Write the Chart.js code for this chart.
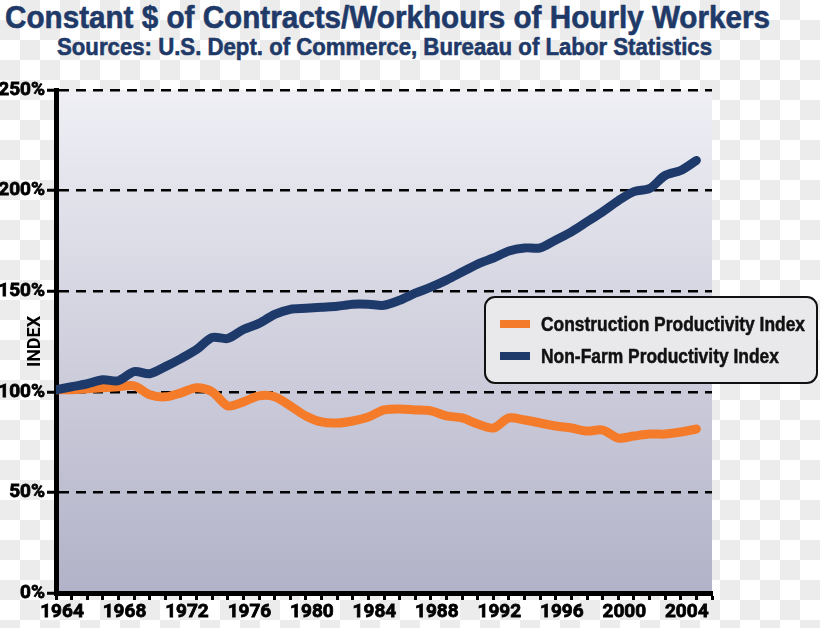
<!DOCTYPE html>
<html>
<head>
<meta charset="utf-8">
<title>Constant $ of Contracts/Workhours of Hourly Workers</title>
<script src="https://cdn.jsdelivr.net/npm/chart.js@4.4.1/dist/chart.umd.min.js"></script>
<style>
html, body { margin: 0; padding: 0; }
body {
  width: 820px; height: 628px; overflow: hidden; position: relative;
  background-color: #fff;
  background-image: conic-gradient(#ececec 25%, #fff 0 50%, #ececec 0 75%, #fff 0);
  background-size: 40px 40px;
}
.title {
  position: absolute; display: inline-block; transform-origin: 0 0;
  color: #1f3a68; font-weight: bold; white-space: nowrap; line-height: 1;
  font-family: 'Liberation Sans', Arial, sans-serif;
  -webkit-text-stroke: 0.6px #1f3a68;
}
#t1 { left: 5px; top: 2px; font-size: 31px; }
#t2 { left: 57px; top: 35px; font-size: 24px; }
#wrap { position: absolute; left: 0; top: 0; width: 820px; height: 628px; }
</style>
</head>
<body>
<span class="title" id="t1" data-w="765">Constant $ of Contracts/Workhours of Hourly Workers</span>
<span class="title" id="t2" data-w="655">Sources: U.S. Dept. of Commerce, Bureaau of Labor Statistics</span>
<div id="wrap"><canvas id="chart" width="820" height="628"></canvas></div>
<script>
// data
var years = [1964, 1965, 1966, 1967, 1968, 1969, 1970, 1971, 1972, 1973,
             1974, 1975, 1976, 1977, 1978, 1979, 1980, 1981, 1982, 1983,
             1984, 1985, 1986, 1987, 1988, 1989, 1990, 1991, 1992, 1993,
             1994, 1995, 1996, 1997, 1998, 1999, 2000, 2001, 2002, 2003,
             2004, 2005];
var construction = [101, 101, 101.5, 102, 102.5, 103, 98.5, 97.5, 99.5, 102,
                    100, 93, 95, 98, 97.5, 93, 88, 85, 84.5, 85.5,
                    87.5, 91, 91.5, 91, 90.5, 88, 87, 84, 82, 87,
                    86, 84.5, 83, 82, 80.5, 81, 77, 78, 79, 79,
                    80, 81.5];
var nonFarm = [101, 102.5, 104, 106, 105.5, 110, 109, 112.5, 116.5, 121,
               127, 126.5, 131, 134, 138.5, 141, 141.5, 142, 142.5, 143.5,
               143.5, 143, 145.5, 149, 152, 155.5, 159.5, 163.5, 166.5, 170,
               171.5, 171.5, 175.5, 179.5, 184.5, 189.5, 195, 199.5, 201, 207.5,
               210, 215];
var yearLabels = [1964, 1968, 1972, 1976, 1980, 1984, 1988, 1992, 1996, 2000, 2004];
var seriesNames = ['Construction Productivity Index', 'Non-Farm Productivity Index'];
var seriesColors = ['#f47b2a', '#1e3a6b'];

var tickFont = "Roboto, 'Liberation Sans', sans-serif";

//squeeze the title lines to the width they have in the original
document.querySelectorAll('.title').forEach(function(el) {
  var w = el.getBoundingClientRect().width;
  el.style.transform = 'scaleX(' + (el.dataset.w / w) + ')';
});

function pts(vals) {
  var out = [];
  for (var i = 0; i < years.length; i++) out.push({x: years[i], y: vals[i]});
  return out;
}

//gradient behind the plot
var plotBg = {
  id: 'plotBg',
  beforeDraw: function(chart) {
    var a = chart.chartArea, ctx = chart.ctx;
    var g = ctx.createLinearGradient(0, a.top, 0, a.bottom);
    g.addColorStop(0, '#efeff5');
    g.addColorStop(1, '#b2b2c8');
    ctx.save();
    ctx.fillStyle = g;
    ctx.fillRect(a.left, a.top, a.right - a.left, a.bottom - a.top);
    ctx.restore();
  }
};

//legend box (sits partly outside the plot so drawn by hand)
var boxLegend = {
  id: 'boxLegend',
  afterDraw: function(chart) {
    var ctx = chart.ctx;
    var x = 485, y = 297, w = 332, h = 86, r = 10;
    ctx.save();
    ctx.beginPath();
    ctx.roundRect(x, y, w, h, r);
    ctx.fillStyle = '#e9e9ec';
    ctx.fill();
    ctx.lineWidth = 2;
    ctx.strokeStyle = '#111';
    ctx.stroke();
    ctx.font = "bold 20px 'Liberation Sans', Arial, sans-serif";
    ctx.textBaseline = 'middle';
    var squeeze = 264 / ctx.measureText(chart.data.datasets[0].label).width;
    chart.data.datasets.forEach(function(ds, i) {
      var cy = y + 27 + i * 32;
      ctx.fillStyle = ds.borderColor;
      ctx.fillRect(x + 15, cy - 4, 30, 8);
      ctx.save();
      ctx.translate(x + 56, cy);
      ctx.scale(squeeze, 1);
      ctx.fillStyle = '#111';
      ctx.strokeStyle = '#111';
      ctx.lineWidth = 0.5;
      ctx.fillText(ds.label, 0, 1);
      ctx.strokeText(ds.label, 0, 1);
      ctx.restore();
    });
    ctx.restore();
  }
};

new Chart(document.getElementById('chart'), {
  type: 'line',
  data: {
    datasets: [
      {label: seriesNames[0], data: pts(construction), borderColor: seriesColors[0],
       borderWidth: 9, pointRadius: 0, tension: 0.3, order: 1,
       borderCapStyle: 'round', borderJoinStyle: 'round'},
      {label: seriesNames[1], data: pts(nonFarm), borderColor: seriesColors[1],
       borderWidth: 9, pointRadius: 0, tension: 0.3, order: 0,
       borderCapStyle: 'round', borderJoinStyle: 'round'}
    ]
  },
  options: {
    responsive: false,
    animation: false,
    layout: {padding: {top: 90, right: 108, left: 0, bottom: 0}},
    plugins: {legend: {display: false}, tooltip: {enabled: false}},
    scales: {
      x: {
        type: 'linear', min: 1964, max: 2006,
        afterFit: function(s) { s.height = 35; },
        border: {color: '#000', width: 5},
        grid: {drawOnChartArea: false, tickLength: 7, tickWidth: 3, tickColor: '#000'},
        ticks: {
          stepSize: 1, autoSkip: false, maxRotation: 0, labelOffset: 6, padding: 1,
          color: '#000', textStrokeColor: '#000', textStrokeWidth: 0.8,
          font: {family: tickFont, size: 19, weight: 'bold'},
          callback: function(v) { return yearLabels.indexOf(v) >= 0 ? String(v) : ''; }
        }
      },
      y: {
        min: 0, max: 250,
        afterFit: function(s) { s.width = 56; },
        border: {color: '#000', width: 5, dash: [10, 7]},
        grid: {color: '#000', lineWidth: 2.5, tickBorderDash: [1, 0],
               tickLength: 9, tickWidth: 3, tickColor: '#000'},
        ticks: {
          stepSize: 50, padding: 2, color: '#000',
          textStrokeColor: '#000', textStrokeWidth: 0.8,
          font: {family: tickFont, size: 19, weight: 'bold'},
          callback: function(v) { return v + '%'; }
        },
        title: {display: true, text: 'INDEX', color: '#000', padding: {top: 25},
                font: {family: tickFont, size: 18, weight: 'bold'}}
      }
    }
  },
  plugins: [plotBg, boxLegend]
});
</script>
</body>
</html>
